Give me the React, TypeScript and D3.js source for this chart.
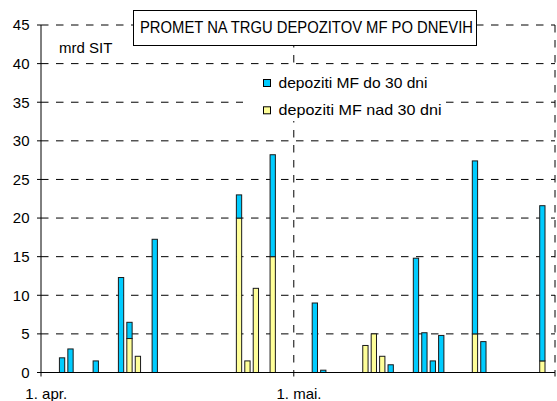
import React from "react";
import * as d3 from "d3";

const dates = ["04-03","04-04","04-07","04-10","04-11","04-12","04-14","04-24","04-25","04-26","04-28","05-03","05-04","05-09","05-10","05-11","05-12","05-15","05-16","05-17","05-18","05-22","05-23","05-30"];
const do30 = [1.9,3.05,1.5,12.3,2.1,0,17.25,3.0,0,0,13.2,9.0,0.3,0,0,0,1.0,14.8,5.15,1.5,4.8,22.4,4.0,20.1];
const nad30 = [0,0,0,0,4.4,2.1,0,20,1.5,10.9,15,0,0,3.5,5.0,2.1,0,0,0,0,0,5.0,0,1.5];
const yTicks = [0,5,10,15,20,25,30,35,40,45];
const xTickDates = ["04-01","05-01","06-01"];
const xLabels = [{ d: "04-01", t: "1. apr." }, { d: "05-01", t: "1. mai." }];
const seriesNames = ["depoziti MF do 30 dni", "depoziti MF nad 30 dni"];
const title = "PROMET NA TRGU DEPOZITOV MF PO DNEVIH";
const unit = "mrd SIT";

const BLUE = "#00CCFF";
const YELLOW = "#FFFF99";
const FONT = "'Liberation Sans', Arial, sans-serif";

const toDate = (s: string) => new Date(`2000-${s}T00:00:00Z`);

export default function App() {
  const W = 557, H = 401;
  const left = 41, right = 555, top = 25, bottom = 372.5;
  const x = d3.scaleUtc().domain([toDate("04-01"), toDate("06-01")]).range([left, right]);
  const y = d3.scaleLinear().domain([0, 45]).range([bottom, top]);
  const dayW = x(toDate("04-02")) - x(toDate("04-01"));
  const barW = 5.3;
  const dash = "7.5,7.5";

  const stack = d3.stack<any>().keys(["nad", "do"])(
    dates.map((d, i) => ({ date: d, nad: nad30[i], do: do30[i] }))
  );
  const colors: Record<string, string> = { nad: YELLOW, do: BLUE };

  return (
    <svg width={W} height={H} style={{ position: "absolute", left: 0, top: 0, background: "#fff" }} fontFamily={FONT}>
      {/* horizontal gridlines */}
      {yTicks.filter((t) => t > 0).map((t) => (
        <line key={"g" + t} x1={left} x2={right} y1={y(t)} y2={y(t)} stroke="#000" strokeWidth={1} strokeDasharray={dash} />
      ))}
      {/* vertical gridlines */}
      {xTickDates.slice(1).map((d) => (
        <line key={"v" + d} x1={x(toDate(d))} x2={x(toDate(d))} y1={top} y2={bottom} stroke="#000" strokeWidth={1} strokeDasharray={dash} />
      ))}
      {/* bars */}
      {stack.map((layer) =>
        layer.map((seg, i) => {
          const h = y(seg[0]) - y(seg[1]);
          if (h <= 0.01) return null;
          const cx = x(toDate(dates[i])) + dayW / 2;
          return (
            <rect key={layer.key + i} x={cx - barW / 2} y={y(seg[1])} width={barW} height={h}
              fill={colors[layer.key]} stroke="#1a1a1a" strokeWidth={1} />
          );
        })
      )}
      {/* axes */}
      <line x1={left} x2={left} y1={top} y2={bottom} stroke="#000" strokeWidth={1} />
      <line x1={left} x2={right} y1={bottom} y2={bottom} stroke="#000" strokeWidth={1} />
      {yTicks.map((t) => (
        <g key={"yt" + t}>
          <line x1={left - 4} x2={left} y1={y(t)} y2={y(t)} stroke="#000" />
          <text x={29.5} y={y(t)} dy="0.36em" textAnchor="end" fontSize={15}>{t}</text>
        </g>
      ))}
      {xTickDates.map((d) => (
        <line key={"xt" + d} x1={x(toDate(d))} x2={x(toDate(d))} y1={bottom} y2={bottom + 4} stroke="#000" />
      ))}
      {xLabels.map((l) => (
        <text key={l.t} x={x(toDate(l.d)) + dayW / 2 + 1} y={398.5} textAnchor="middle" fontSize={15}>{l.t}</text>
      ))}
      {/* unit */}
      <text x={59} y={53} fontSize={15}>{unit}</text>
      {/* legend */}
      <rect x={243} y={67} width={202} height={54} fill="#fff" />
      {seriesNames.map((n, i) => (
        <g key={n}>
          <rect x={263.5} y={79.5 + i * 27.3} width={7} height={7} fill={i === 0 ? BLUE : YELLOW} stroke="#000" strokeWidth={1} />
          <text x={278.5} y={87.5 + i * 27.3} fontSize={15} textLength={i === 0 ? 149 : 163} lengthAdjust="spacingAndGlyphs">{n}</text>
        </g>
      ))}
      {/* title */}
      <rect x={133.5} y={10.5} width={343} height={35} fill="#fff" stroke="#000" strokeWidth={1} />
      <text x={140} y={33} fontSize={16} textLength={333} lengthAdjust="spacingAndGlyphs">{title}</text>
    </svg>
  );
}
